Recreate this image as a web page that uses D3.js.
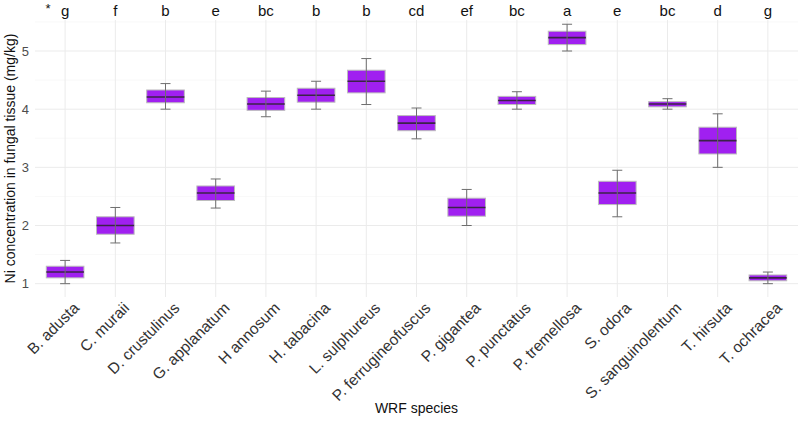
<!DOCTYPE html>
<html>
<head>
<meta charset="utf-8">
<script src="https://cdn.jsdelivr.net/npm/d3@7"></script>
<style>
  body { margin: 0; background: #fff; }
  svg { display: block; font-family: "Liberation Sans", Arial, sans-serif; }
</style>
</head>
<body>
<svg id="chart" width="800" height="421"></svg>
<script>
// species on the x axis
const species = ['B. adusta', 'C. muraii', 'D. crustulinus', 'G. applanatum', 'H annosum',
  'H. tabacina', 'L. sulphureus', 'P. ferrugineofuscus', 'P. gigantea', 'P. punctatus',
  'P. tremellosa', 'S. odora', 'S. sanguinolentum', 'T. hirsuta', 'T. ochracea']

// five number summaries (mg/kg)
const whiskerLow  = [1.00, 1.70, 4.00, 2.30, 3.87, 4.00, 4.08, 3.49, 2.00, 4.00, 5.00, 2.15, 4.00, 3.00, 1.00]
const boxLow      = [1.10, 1.85, 4.11, 2.43, 3.98, 4.12, 4.28, 3.63, 2.16, 4.08, 5.11, 2.36, 4.04, 3.23, 1.05]
const median      = [1.20, 2.00, 4.21, 2.56, 4.09, 4.24, 4.48, 3.76, 2.31, 4.15, 5.23, 2.56, 4.09, 3.46, 1.10]
const boxHigh     = [1.30, 2.15, 4.33, 2.68, 4.20, 4.36, 4.67, 3.89, 2.47, 4.22, 5.34, 2.76, 4.13, 3.69, 1.15]
const whiskerHigh = [1.40, 2.31, 4.44, 2.80, 4.31, 4.48, 4.87, 4.02, 2.62, 4.30, 5.46, 2.95, 4.18, 3.92, 1.20]

// significance groups above each box
const groups = ['g', 'f', 'b', 'e', 'bc', 'b', 'b', 'cd', 'ef', 'bc', 'a', 'e', 'bc', 'd', 'g']

const yTicks = [1, 2, 3, 4, 5]
const yMinor = [1.5, 2.5, 3.5, 4.5, 5.5]

const panel = { left: 35, right: 798, top: 20, bottom: 297 }

const data = species.map((s, i) => ({
  name: s, lo: whiskerLow[i], q1: boxLow[i], med: median[i], q3: boxHigh[i], hi: whiskerHigh[i], grp: groups[i]
}))

const svg = d3.select('#chart')

const x = d3.scaleBand()
  .domain(species)
  .range([panel.left, panel.right])
  .paddingOuter(0.1)
  .paddingInner(0)

const y = d3.scaleLinear()
  .domain([0.771, 5.533])
  .range([panel.bottom, panel.top])

const cx = (d) => x(d) + x.bandwidth() / 2
const boxW = x.bandwidth() * 0.75
const capW = 10

// grid
const grid = svg.append('g')
grid.selectAll('line.minor').data(yMinor).join('line')
  .attr('x1', panel.left).attr('x2', panel.right)
  .attr('y1', (d) => y(d)).attr('y2', (d) => y(d))
  .attr('stroke', '#f3f3f3').attr('stroke-width', 0.6)
grid.selectAll('line.major').data(yTicks).join('line')
  .attr('x1', panel.left).attr('x2', panel.right)
  .attr('y1', (d) => y(d)).attr('y2', (d) => y(d))
  .attr('stroke', '#ebebeb').attr('stroke-width', 1)
grid.selectAll('line.vert').data(species).join('line')
  .attr('x1', cx).attr('x2', cx)
  .attr('y1', panel.top).attr('y2', panel.bottom)
  .attr('stroke', '#ebebeb').attr('stroke-width', 1)

// boxes
const box = svg.append('g').selectAll('g').data(data).join('g')
  .attr('transform', (d) => 'translate(' + cx(d.name) + ',0)')

box.append('rect')
  .attr('x', -boxW / 2).attr('width', boxW)
  .attr('y', (d) => y(d.q3)).attr('height', (d) => y(d.q1) - y(d.q3))
  .attr('fill', '#a020f0').attr('stroke', '#bdbdbd').attr('stroke-width', 1)

box.append('line')
  .attr('x1', -boxW / 2).attr('x2', boxW / 2)
  .attr('y1', (d) => y(d.med)).attr('y2', (d) => y(d.med))
  .attr('stroke', '#3b2348').attr('stroke-width', 1.6)

// error bars on top
const eb = box.append('g').attr('stroke', '#6e6e6e').attr('stroke-width', 1)
eb.append('line').attr('y1', (d) => y(d.lo)).attr('y2', (d) => y(d.hi))
eb.append('line').attr('x1', -capW / 2).attr('x2', capW / 2)
  .attr('y1', (d) => y(d.hi)).attr('y2', (d) => y(d.hi))
eb.append('line').attr('x1', -capW / 2).attr('x2', capW / 2)
  .attr('y1', (d) => y(d.lo)).attr('y2', (d) => y(d.lo))

// group letters
svg.append('g').selectAll('text').data(data).join('text')
  .attr('x', (d) => cx(d.name)).attr('y', 16)
  .attr('text-anchor', 'middle').attr('font-size', 15).attr('fill', '#111')
  .text((d) => d.grp)
svg.append('text')
  .attr('x', cx(species[0]) - 17).attr('y', 13)
  .attr('text-anchor', 'middle').attr('font-size', 13).attr('fill', '#111')
  .text('*')

// y axis labels
svg.append('g').selectAll('text').data(yTicks).join('text')
  .attr('x', 29).attr('y', (d) => y(d)).attr('dy', '0.35em')
  .attr('text-anchor', 'end').attr('font-size', 13).attr('fill', '#4d4d4d')
  .text((d) => d)

// x axis labels
svg.append('g').selectAll('text').data(species).join('text')
  .attr('transform', (d) => 'translate(' + (cx(d) + 7) + ',301) rotate(-45)')
  .attr('dy', '0.72em')
  .attr('text-anchor', 'end').attr('font-size', 15.5).attr('fill', '#333')
  .text((d) => d)

// titles
svg.append('text')
  .attr('transform', 'translate(15,' + ((panel.top + panel.bottom) / 2) + ') rotate(-90)')
  .attr('text-anchor', 'middle').attr('font-size', 14).attr('fill', '#111')
  .text('Ni concentration in fungal tissue (mg/kg)')
svg.append('text')
  .attr('x', (panel.left + panel.right) / 2).attr('y', 413)
  .attr('text-anchor', 'middle').attr('font-size', 14).attr('fill', '#111')
  .text('WRF species')
</script>
</body>
</html>
